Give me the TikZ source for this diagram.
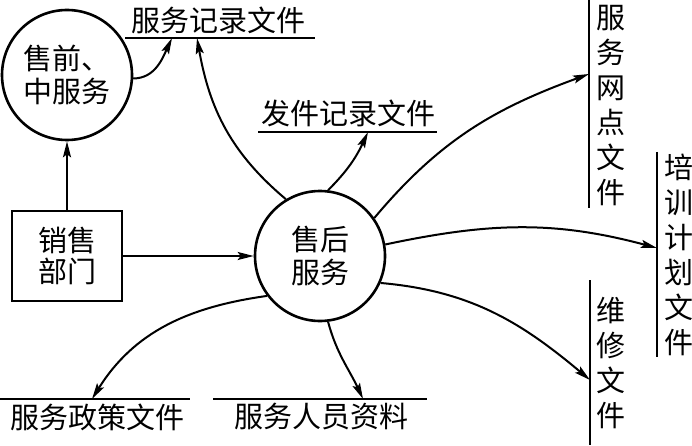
\documentclass[tikz,border=0pt]{standalone}
\usepackage{fontspec}
\newfontfamily\cjk{Noto Sans CJK SC}
\usetikzlibrary{arrows.meta,positioning}

\begin{document}
\begin{tikzpicture}[
  x=1pt,y=1pt,
  proc/.style={circle,draw,line width=2.6pt,minimum size=130pt,inner sep=0pt,align=center,font=\cjk\fontsize{29}{33}\selectfont},
  unit/.style={rectangle,draw,line width=2.6pt,minimum width=110pt,minimum height=90pt,inner sep=0pt,align=center,font=\cjk\fontsize{29}{31}\selectfont},
  file/.style={inner sep=0pt,font=\cjk\fontsize{29}{35}\selectfont},
  vfile/.style={file,align=center},
  rule/.style={line width=2pt},
  arrow/.style={-{Stealth[length=16pt,width=8pt,inset=3pt]},line width=2pt}
]
\useasboundingbox (0,0) rectangle (692,445);
% processes and the outside unit
\node[proc] (pre) at (67,370) {售前、\\中服务};
\node[unit] (sales) at (67,189) {销售\\部门};
\node[proc] (after) at (320,189) {售后\\服务};
% data stores
\node[file] (recfile) at (218,425) {服务记录文件};
\draw[rule] (125,407) -- (315,407);
\coordinate (recA) at (172,407);
\coordinate (recB) at (197,407);
\node[file] (sendfile) at (348,332) {发件记录文件};
\draw[rule] (258,313) -- (437,313);
\coordinate (sendA) at (368,313);
\node[file] (policyfile) at (97,28) {服务政策文件};
\draw[rule] (0,46) -- (190,46);
\coordinate (policyA) at (92,46);
\node[file] (stafffile) at (321,28) {服务人员资料};
\draw[rule] (213,46) -- (427,46);
\coordinate (staffA) at (363,46);
\node[vfile] (netfile) at (611,339) {服\\务\\网\\点\\文\\件};
\draw[rule] (589,445) -- (589,237);
\coordinate (netA) at (589,371);
\node[vfile] (trainfile) at (679,190) {培\\训\\计\\划\\文\\件};
\draw[rule] (657,293) -- (657,88);
\coordinate (trainA) at (657,197);
\node[vfile] (repairfile) at (611,82) {维\\修\\文\\件};
\draw[rule] (590,165) -- (590,0);
\coordinate (repairA) at (590,65);
% flows
\draw[arrow] (sales) -- (pre);
\draw[arrow] (sales) -- (after);
\draw[arrow] (pre.-3) to[out=0,in=-115] (recA);
\draw[arrow] (after.121) to[out=140,in=-80] (recB);
\draw[arrow] (after.83) to[out=45,in=-115] (sendA);
\draw[arrow] (after.35) to[out=50,in=-160] (netA);
\draw[arrow] (after.10) to[out=12,in=165] (trainA);
\draw[arrow] (after.-24) to[out=-5,in=140] (repairA);
\draw[arrow] (after.-143) to[out=188,in=58] (policyA);
\draw[arrow] (after.-83) to[out=-75,in=115] (staffA);
\end{tikzpicture}
\end{document}
